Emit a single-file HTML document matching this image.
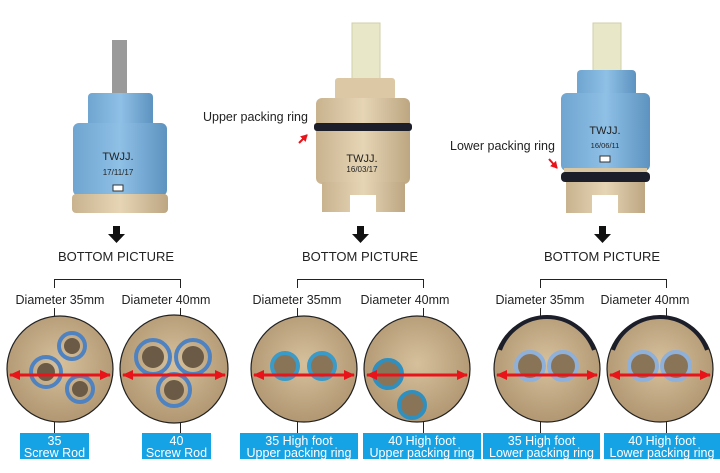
<!DOCTYPE html>
<html><head><meta charset="utf-8"><style>
html,body{margin:0;padding:0;background:#fff;width:720px;height:473px;overflow:hidden}
svg{display:block}
text{font-family:"Liberation Sans",sans-serif;fill:#222}
.lb{fill:#fff;font-size:12.5px;text-anchor:middle}
</style></head><body>
<svg width="720" height="473" viewBox="0 0 720 473" xmlns="http://www.w3.org/2000/svg">
<defs>
<radialGradient id="bg" cx="50%" cy="45%" r="60%"><stop offset="0" stop-color="#d6c09c"/><stop offset="1" stop-color="#ae946f"/></radialGradient>
<linearGradient id="blue" x1="0" x2="1"><stop offset="0" stop-color="#6fa5d0"/><stop offset="0.5" stop-color="#8fc0e6"/><stop offset="1" stop-color="#5d93c0"/></linearGradient>
<linearGradient id="beige" x1="0" x2="1"><stop offset="0" stop-color="#c9b38f"/><stop offset="0.5" stop-color="#e6d5b5"/><stop offset="1" stop-color="#bda682"/></linearGradient>
<marker id="ar" markerUnits="userSpaceOnUse" markerWidth="12" markerHeight="12" refX="10" refY="6" orient="auto-start-reverse"><path d="M0,1 L11,6 L0,11z" fill="#e8141a"/></marker>
<marker id="ar2" markerUnits="userSpaceOnUse" markerWidth="8" markerHeight="8" refX="6" refY="4" orient="auto"><path d="M0,0 L7,4 L0,8z" fill="#e8141a"/></marker>
</defs>

<!-- cartridge 1 -->
<rect x="112" y="40" width="15" height="60" fill="#9a9a9a"/>
<rect x="88" y="93" width="65" height="36" rx="4" fill="url(#blue)"/>
<rect x="73" y="123" width="94" height="73" rx="6" fill="url(#blue)"/>
<rect x="72" y="194" width="96" height="19" rx="4" fill="url(#beige)"/>
<text x="118" y="160" font-size="11" text-anchor="middle" font-family="Liberation Serif">TWJJ.</text>
<text x="118" y="175" font-size="8" text-anchor="middle">17/11/17</text>
<rect x="113" y="185" width="10" height="6" fill="#fff" stroke="#333"/>

<!-- cartridge 2 -->
<rect x="352" y="23" width="28" height="58" fill="#e8e8c8" stroke="#cfcfaa"/>
<rect x="335" y="78" width="60" height="22" rx="3" fill="#dcc8a4"/>
<rect x="316" y="98" width="94" height="86" rx="6" fill="url(#beige)"/>
<rect x="314" y="123" width="98" height="8" rx="3" fill="#1c1f2a"/>
<rect x="322" y="182" width="83" height="30" fill="url(#beige)"/>
<rect x="350" y="195" width="26" height="17" fill="#fff"/>
<text x="362" y="162" font-size="11" text-anchor="middle" font-family="Liberation Serif">TWJJ.</text>
<text x="362" y="172" font-size="8" text-anchor="middle">16/03/17</text>
<text x="203" y="121" font-size="12.5">Upper packing ring</text>
<path d="M299,143 L307,135" stroke="#e8141a" stroke-width="2" marker-end="url(#ar2)"/>

<!-- cartridge 3 -->
<rect x="593" y="23" width="28" height="50" fill="#e8e8c8" stroke="#cfcfaa"/>
<rect x="577" y="70" width="59" height="28" rx="4" fill="url(#blue)"/>
<rect x="561" y="93" width="89" height="78" rx="6" fill="url(#blue)"/>
<rect x="564" y="168" width="83" height="8" fill="#d9c6a3"/>
<rect x="561" y="172" width="89" height="10" rx="4" fill="#1c1f2a"/>
<rect x="566" y="182" width="79" height="31" fill="url(#beige)"/>
<rect x="592" y="195" width="26" height="18" fill="#fff"/>
<text x="605" y="134" font-size="11" text-anchor="middle" font-family="Liberation Serif">TWJJ.</text>
<text x="605" y="148" font-size="7.5" text-anchor="middle">16/06/11</text>
<rect x="600" y="156" width="10" height="6" fill="#fff" stroke="#333"/>
<text x="450" y="150" font-size="12.5">Lower packing ring</text>
<path d="M549,159 L557,168" stroke="#e8141a" stroke-width="2" marker-end="url(#ar2)"/>

<!-- down arrows -->
<g fill="#111">
<path d="M113,226 h7 v8 h5 l-8.5,9 l-8.5,-9 h5z"/>
<path d="M357,226 h7 v8 h5 l-8.5,9 l-8.5,-9 h5z"/>
<path d="M599,226 h7 v8 h5 l-8.5,9 l-8.5,-9 h5z"/>
</g>
<text x="116" y="261" font-size="13" text-anchor="middle">BOTTOM PICTURE</text>
<text x="360" y="261" font-size="13" text-anchor="middle">BOTTOM PICTURE</text>
<text x="602" y="261" font-size="13" text-anchor="middle">BOTTOM PICTURE</text>

<!-- brackets -->
<g stroke="#222" stroke-width="1" fill="none">
<path d="M54.5,288 V279.5 H180.5 V288"/>
<path d="M297.5,288 V279.5 H423.5 V288"/>
<path d="M540.5,288 V279.5 H666.5 V288"/>
<path d="M54.5,308 V318 M180.5,308 V318 M297.5,308 V318 M423.5,308 V318 M540.5,308 V318 M666.5,308 V318"/>
<path d="M54.5,420 V433 M180.5,420 V433 M297.5,420 V433 M423.5,420 V433 M540.5,420 V433 M666.5,420 V433"/>
</g>
<g font-size="12.5" text-anchor="middle">
<text x="60" y="304">Diameter 35mm</text><text x="166" y="304">Diameter 40mm</text>
<text x="297" y="304">Diameter 35mm</text><text x="405" y="304">Diameter 40mm</text>
<text x="540" y="304">Diameter 35mm</text><text x="645" y="304">Diameter 40mm</text>
</g>

<!-- circles -->
<g stroke="#222" stroke-width="1.2">
<circle cx="60" cy="369" r="53" fill="url(#bg)"/>
<circle cx="174" cy="369" r="54" fill="url(#bg)"/>
<circle cx="304" cy="369" r="53" fill="url(#bg)"/>
<circle cx="417" cy="369" r="53" fill="url(#bg)"/>
<circle cx="547" cy="369" r="53" fill="url(#bg)"/>
<circle cx="660" cy="369" r="53" fill="url(#bg)"/>
</g>
<g fill="none" stroke="#4f82c0" stroke-width="4">
<circle cx="72" cy="346" r="13"/><circle cx="46" cy="372" r="15"/><circle cx="80" cy="389" r="13"/>
<circle cx="153" cy="357" r="17"/><circle cx="193" cy="357" r="17"/><circle cx="174" cy="390" r="16"/>
</g>
<g fill="#6a5a46">
<circle cx="72" cy="346" r="8"/><circle cx="46" cy="372" r="9"/><circle cx="80" cy="389" r="8"/>
<circle cx="153" cy="357" r="11"/><circle cx="193" cy="357" r="11"/><circle cx="174" cy="390" r="10"/>
</g>
<g fill="#8a7458" stroke-width="4">
<circle cx="285" cy="366" r="13" stroke="#3a9ac8"/><circle cx="322" cy="366" r="13" stroke="#3a9ac8"/>
<circle cx="388" cy="374" r="14" stroke="#2f8fbf"/><circle cx="412" cy="405" r="13" stroke="#2f8fbf"/>
<circle cx="530" cy="366" r="14" stroke="#8fb0d8"/><circle cx="563" cy="366" r="14" stroke="#8fb0d8"/>
<circle cx="643" cy="366" r="14" stroke="#8fb0d8"/><circle cx="676" cy="366" r="14" stroke="#8fb0d8"/>
</g>
<g fill="none" stroke="#1c1f2a" stroke-width="4">
<path d="M500,350 A50,50 0 0 1 594,350"/>
<path d="M613,350 A50,50 0 0 1 707,350"/>
</g>

<!-- red arrows -->
<g stroke="#e8141a" stroke-width="3" marker-start="url(#ar)" marker-end="url(#ar)">
<line x1="10" y1="375" x2="110" y2="375"/>
<line x1="123" y1="375" x2="225" y2="375"/>
<line x1="254" y1="375" x2="354" y2="375"/>
<line x1="367" y1="375" x2="467" y2="375"/>
<line x1="497" y1="375" x2="597" y2="375"/>
<line x1="610" y1="375" x2="710" y2="375"/>
</g>

<!-- labels -->
<g fill="#15a3e6">
<rect x="20" y="433" width="69" height="26"/>
<rect x="142" y="433" width="69" height="26"/>
<rect x="240" y="433" width="118" height="26"/>
<rect x="363" y="433" width="118" height="26"/>
<rect x="483" y="433" width="117" height="26"/>
<rect x="604" y="433" width="116" height="26"/>
</g>
<text class="lb" x="54.5" y="445">35</text><text class="lb" x="54.5" y="457">Screw Rod</text>
<text class="lb" x="176.5" y="445">40</text><text class="lb" x="176.5" y="457">Screw Rod</text>
<text class="lb" x="299" y="445">35 High foot</text><text class="lb" x="299" y="457">Upper packing ring</text>
<text class="lb" x="422" y="445">40 High foot</text><text class="lb" x="422" y="457">Upper packing ring</text>
<text class="lb" x="541.5" y="445">35 High foot</text><text class="lb" x="541.5" y="457">Lower packing ring</text>
<text class="lb" x="662" y="445">40 High foot</text><text class="lb" x="662" y="457">Lower packing ring</text>
</svg>
</body></html>
